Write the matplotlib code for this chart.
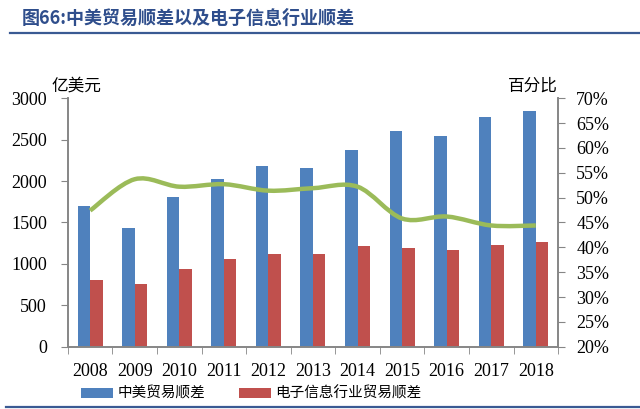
import matplotlib
matplotlib.use("Agg")
import matplotlib.pyplot as plt
from matplotlib.path import Path
from matplotlib.patches import PathPatch
from matplotlib.ticker import FuncFormatter

years = ["2008", "2009", "2010", "2011", "2012", "2013",
         "2014", "2015", "2016", "2017", "2018"]
trade_surplus = [1700, 1430, 1810, 2025, 2185, 2155, 2370, 2600, 2540, 2775, 2850]
elec_surplus = [810, 760, 940, 1060, 1125, 1120, 1220, 1195, 1165, 1225, 1260]
elec_share = [47.4, 53.7, 52.2, 52.7, 51.4, 51.9, 52.2, 45.8, 46.2, 44.4, 44.4]

title = "图66:中美贸易顺差以及电子信息行业顺差"
label_bar1 = "中美贸易顺差"
label_bar2 = "电子信息行业贸易顺差"

blue = "#4F81BD"
red = "#C0504D"
green = "#9BBB59"
gray = "#868686"
cjk = ["Noto Sans CJK SC", "DejaVu Sans"]
serif = ["Liberation Serif", "DejaVu Serif"]


def smooth_path(xs, ys):
    # catmull-rom style bezier, like excel's smoothed line
    pts = list(zip(xs, ys))
    verts = [pts[0]]
    codes = [Path.MOVETO]
    n = len(pts)
    for i in range(n - 1):
        p0 = pts[i - 1] if i > 0 else pts[i]
        p1 = pts[i]
        p2 = pts[i + 1]
        p3 = pts[i + 2] if i + 2 < n else pts[i + 1]
        c1 = (p1[0] + (p2[0] - p0[0]) / 6, p1[1] + (p2[1] - p0[1]) / 6)
        c2 = (p2[0] - (p3[0] - p1[0]) / 6, p2[1] - (p3[1] - p1[1]) / 6)
        verts += [c1, c2, p2]
        codes += [Path.CURVE4] * 3
    return Path(verts, codes)


fig = plt.figure(figsize=(6.4, 4.09), dpi=100)
ax = fig.add_axes([0.106, 0.152, 0.766, 0.608])
ax2 = ax.twinx()

x = list(range(len(years)))
w = 0.28
b1 = ax.bar([i - w / 2 for i in x], trade_surplus, width=w, color=blue, label=label_bar1)
b2 = ax.bar([i + w / 2 for i in x], elec_surplus, width=w, color=red, label=label_bar2)

ax2.add_patch(PathPatch(smooth_path(x, elec_share), fill=False, edgecolor=green,
                        lw=3.2, capstyle="butt", joinstyle="round"))

ax.set_xlim(-0.5, len(years) - 0.5)
ax.set_ylim(0, 3000)
ax.set_yticks(range(0, 3001, 500))
ax2.set_ylim(20, 70)
ax2.set_yticks(range(20, 71, 5))
ax2.yaxis.set_major_formatter(FuncFormatter(lambda v, p: f"{v:.0f}%"))

ax.set_xticks(x)
ax.set_xticklabels(years)
ax.set_xticks([i - 0.5 for i in range(len(years) + 1)], minor=True)
ax.tick_params(axis="x", which="major", length=0, pad=12)
ax.tick_params(axis="x", which="minor", length=5, color=gray, direction="out")
ax.tick_params(axis="y", length=5, color=gray, direction="out", pad=10)
ax2.tick_params(axis="y", length=5, color=gray, direction="out", pad=8)

for a in (ax, ax2):
    a.spines["top"].set_visible(False)
    for s in ("left", "right", "bottom"):
        a.spines[s].set_color(gray)
        a.spines[s].set_linewidth(1.2)
    for lab in a.get_xticklabels() + a.get_yticklabels():
        lab.set_family(serif)
        lab.set_fontsize(13)

fig.text(0.081, 0.79, "亿美元", family=cjk, fontsize=12, ha="left", va="center")
fig.text(0.872, 0.79, "百分比", family=cjk, fontsize=12, ha="right", va="center")

fig.text(0.034, 0.955, title, family=cjk, fontsize=13, fontweight="bold",
         color="#2F4E8C", ha="left", va="center")
fig.add_artist(plt.Line2D([0.016, 1.0], [0.919, 0.919], color="#3A5A93", lw=1.6,
                          transform=fig.transFigure))
fig.add_artist(plt.Line2D([0.01, 1.0], [0.005, 0.005], color="#3A5A93", lw=1.6,
                          transform=fig.transFigure))

leg = fig.legend(handles=[b1, b2], loc="center", bbox_to_anchor=(0.393, 0.037),
                 ncol=2, frameon=False, prop={"family": cjk, "size": 10.5},
                 handlelength=2.2, handleheight=0.6, columnspacing=2.3,
                 handletextpad=0.3)

fig.savefig("out.png", dpi=100)
